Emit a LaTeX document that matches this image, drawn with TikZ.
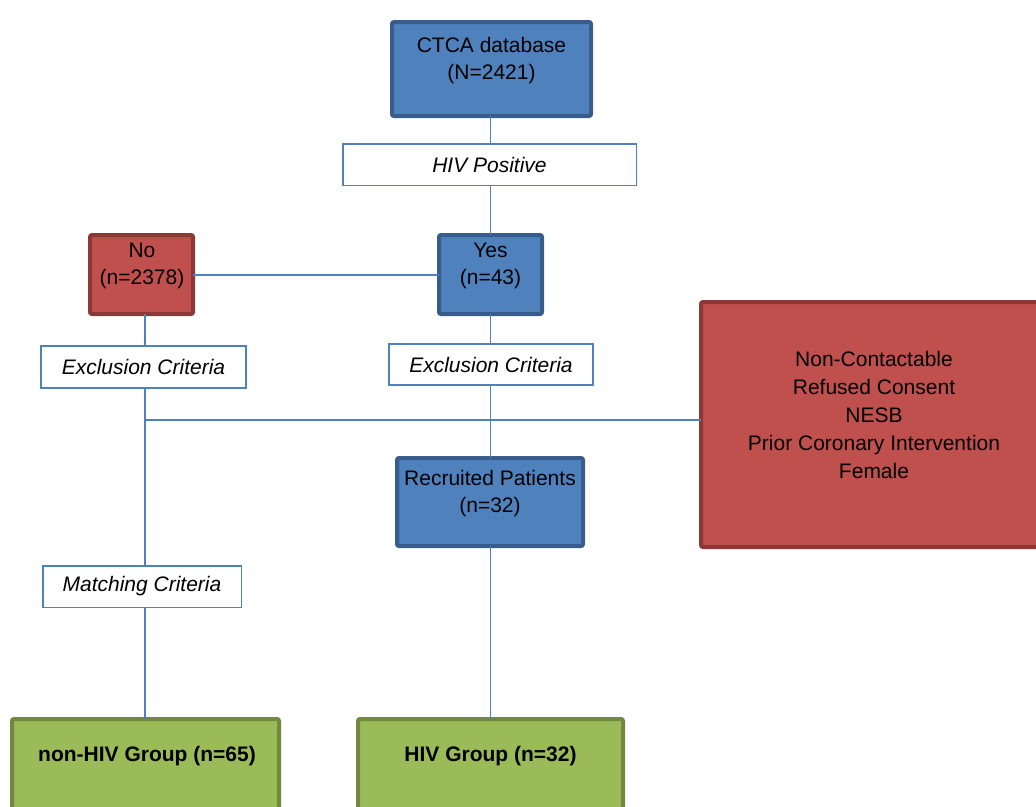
\documentclass[tikz,border=0pt]{standalone}
\usepackage{fontspec}
\setmainfont{Liberation Sans}
\definecolor{bfill}{HTML}{4F81BD}
\definecolor{bline}{HTML}{385D8A}
\definecolor{rfill}{HTML}{C0504D}
\definecolor{rline}{HTML}{8C3836}
\definecolor{gfill}{HTML}{9BBB59}
\definecolor{gline}{HTML}{71893F}
\definecolor{conn}{HTML}{4F81BD}
\tikzset{
  boxbase/.style={rectangle, rounded corners=2pt, outer sep=0pt, inner sep=0pt},
  bluebox/.style={boxbase, fill=bfill, draw=bline, line width=4pt},
  redbox/.style={boxbase, fill=rfill, draw=rline, line width=4pt},
  greenbox/.style={boxbase, fill=gfill, draw=gline, line width=4pt},
  whitebox/.style={rectangle, fill=white, draw=conn, line width=1.5pt, outer sep=0pt, inner sep=0pt,
     font=\fontsize{21}{27}\selectfont\itshape},
  txt/.style={align=center, inner sep=0pt, font=\fontsize{21}{27}\selectfont},
  btxt/.style={align=center, inner sep=0pt, font=\fontsize{21}{27}\selectfont\bfseries},
  conline/.style={draw=conn, line width=1.5pt},
}
\begin{document}
\begin{tikzpicture}[x=1pt,y=-1pt]
\useasboundingbox (0,0) rectangle (1036,806);
% boxes
\node[bluebox, minimum width=199, minimum height=94] (ctca) at (491.5,69) {};
\node[txt] (ctcaT) at (491.5,60.5) {CTCA database\\(N=2421)};
\node[whitebox, minimum width=293.5, minimum height=41.5] (hiv) at (489.5,164.5) {HIV Positive};
\node[bluebox, minimum width=103, minimum height=79] (yes) at (490.5,274.5) {};
\node[txt] (yesT) at (490.5,265.5) {Yes\\(n=43)};
\node[redbox, minimum width=103, minimum height=79] (no) at (141.5,274.5) {};
\node[txt] (noT) at (142,265.5) {No\\(n=2378)};
\node[whitebox, minimum width=205, minimum height=42] (exclL) at (143.5,367) {Exclusion Criteria};
\node[whitebox, minimum width=204, minimum height=41] (exclR) at (491,364.5) {Exclusion Criteria};
\node[redbox, minimum width=342, minimum height=245] (red) at (872,424.5) {};
\node[txt, font=\fontsize{21}{28}\selectfont] (redT) at (874,415) {Non-Contactable\\Refused Consent\\NESB\\Prior Coronary Intervention\\Female};
\node[bluebox, minimum width=186, minimum height=88] (rec) at (490,502) {};
\node[txt] (recT) at (490,493.5) {Recruited Patients\\(n=32)};
\node[whitebox, minimum width=198.5, minimum height=41.5] (match) at (142,586.5) {Matching Criteria};
\node[greenbox, minimum width=267, minimum height=94] (nonhiv) at (145.5,766) {};
\node[btxt] (nonhivT) at (147,756) {non-HIV Group (n=65)};
\node[greenbox, minimum width=265, minimum height=94] (hivg) at (490.5,766) {};
\node[btxt] (hivgT) at (490.5,756) {HIV Group (n=32)};
% connectors
\coordinate (jL) at (145,420);
\coordinate (cx) at (490.5,0);
\draw[conline] (ctca.south -| cx) -- (hiv.north -| cx);
\draw[conline] (hiv.south -| cx) -- (yes.north -| cx);
\draw[conline] (no.east |- 0,275) -- (yes.west |- 0,275);
\draw[conline] (yes.south -| cx) -- (exclR.north -| cx);
\draw[conline] (exclR.south -| cx) -- (rec.north -| cx);
\draw[conline] (rec.south -| cx) -- (hivg.north -| cx);
\draw[conline] (no.south -| jL) -- (exclL.north -| jL);
\draw[conline] (exclL.south -| jL) -- (match.north -| jL);
\draw[conline] (match.south -| jL) -- (nonhiv.north -| jL);
\draw[conline] (jL) -- (red.west |- jL);
\end{tikzpicture}
\end{document}
